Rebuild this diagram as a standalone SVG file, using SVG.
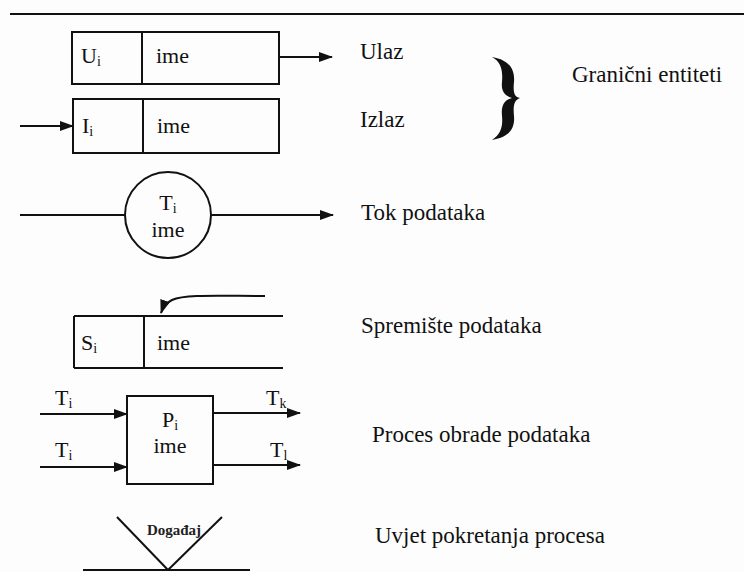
<svg xmlns="http://www.w3.org/2000/svg" width="744" height="572" viewBox="0 0 744 572" font-family="Liberation Serif, Times New Roman, serif">
<style>
.t{font-size:22px;fill:#111}
.l{font-size:23px;fill:#111}
.s{font-size:14px}
.ln{stroke:#111;stroke-width:2;fill:none}
.bx{stroke:#111;stroke-width:2;fill:none}
</style>
<defs>
<marker id="ah" viewBox="0 0 14 10" refX="13" refY="5" markerWidth="14" markerHeight="10" markerUnits="userSpaceOnUse" orient="auto">
<path d="M0,0 L14,5 L0,10 Z" fill="#111"/>
</marker>
</defs>
<rect x="0" y="0" width="744" height="572" fill="#fdfdfd"/>
<line x1="10" y1="14" x2="744" y2="14" class="ln"/>

<g id="ulaz">
<rect x="72" y="32" width="207" height="52" class="bx"/>
<line x1="142" y1="32" x2="142" y2="84" class="ln"/>
<text x="81" y="63" class="t" font-family="Liberation Serif, serif">U<tspan class="s" dy="3">i</tspan></text>
<text x="156" y="63" class="t" font-family="Liberation Serif, serif">ime</text>
</g>

<g id="izlaz">
<rect x="73" y="99" width="206" height="54" class="bx"/>
<line x1="143" y1="99" x2="143" y2="153" class="ln"/>
<text x="82" y="133" class="t" font-family="Liberation Serif, serif">I<tspan class="s" dy="3">i</tspan></text>
<text x="157" y="133" class="t" font-family="Liberation Serif, serif">ime</text>
</g>

<g id="tok">
<circle cx="168" cy="215" r="43" class="bx"/>
<text x="168" y="210" class="t" text-anchor="middle" font-family="Liberation Serif, serif">T<tspan class="s" dy="3">i</tspan></text>
<text x="168" y="237" class="t" text-anchor="middle" font-family="Liberation Serif, serif">ime</text>
</g>

<g id="spremiste">
<line x1="74" y1="316" x2="283" y2="316" class="ln"/>
<line x1="74" y1="368" x2="283" y2="368" class="ln"/>
<line x1="74" y1="316" x2="74" y2="368" class="ln"/>
<line x1="144" y1="316" x2="144" y2="368" class="ln"/>
<text x="81" y="350" class="t" font-family="Liberation Serif, serif">S<tspan class="s" dy="3">i</tspan></text>
<text x="157" y="350" class="t" font-family="Liberation Serif, serif">ime</text>
</g>

<g id="proces">
<rect x="127" y="396" width="86" height="88" class="bx"/>
<text x="170" y="427" class="t" text-anchor="middle" font-family="Liberation Serif, serif">P<tspan class="s" dy="3">i</tspan></text>
<text x="170" y="453" class="t" text-anchor="middle" font-family="Liberation Serif, serif">ime</text>
<text x="55" y="405" class="t" font-family="Liberation Serif, serif">T<tspan class="s" dy="3">i</tspan></text>
<text x="55" y="457" class="t" font-family="Liberation Serif, serif">T<tspan class="s" dy="3">i</tspan></text>
<text x="266" y="405" class="t" font-family="Liberation Serif, serif">T<tspan class="s" dy="3">k</tspan></text>
<text x="270" y="457" class="t" font-family="Liberation Serif, serif">T<tspan class="s" dy="3">l</tspan></text>
</g>

<g id="dogadaj">
<line x1="117" y1="517" x2="168" y2="570" class="ln"/>
<line x1="222" y1="517" x2="168" y2="570" class="ln"/>
<line x1="83" y1="570" x2="250" y2="570" class="ln"/>
<text x="174" y="535" font-family="Liberation Serif, serif" font-size="15" font-weight="bold" fill="#222" text-anchor="middle">Događaj</text>
</g>

<g id="connectors">
<line x1="279" y1="57" x2="332" y2="57" class="ln" marker-end="url(#ah)"/>
<line x1="20" y1="126" x2="73" y2="126" class="ln" marker-end="url(#ah)"/>
<line x1="20" y1="215" x2="125" y2="215" class="ln"/>
<line x1="211" y1="215" x2="333" y2="215" class="ln" marker-end="url(#ah)"/>
<path d="M265,296 C220,296 185,294 172,300 C166,303 163,307 161,313" class="ln" marker-end="url(#ah)"/>
<line x1="40" y1="414" x2="127" y2="414" class="ln" marker-end="url(#ah)"/>
<line x1="40" y1="467" x2="127" y2="467" class="ln" marker-end="url(#ah)"/>
<line x1="213" y1="413" x2="300" y2="413" class="ln" marker-end="url(#ah)"/>
<line x1="213" y1="465" x2="300" y2="465" class="ln" marker-end="url(#ah)"/>
</g>

<g id="brace">
<path d="M492,57 C510,60 515,70 514,82 C513,92 514,97 520,98 C514,100 513,106 514,116 C515,128 510,137 492,140 C501,134 503,126 502,116 C501,106 504,100 512,98 C504,96 501,90 502,82 C503,70 501,62 492,57 Z" fill="#111"/>
</g>

<g id="labels">
<text x="360" y="59" class="l" font-family="Liberation Serif, serif">Ulaz</text>
<text x="360" y="127" class="l" font-family="Liberation Serif, serif">Izlaz</text>
<text x="572" y="82" class="l" font-family="Liberation Serif, serif">Granični entiteti</text>
<text x="361" y="220" class="l" font-family="Liberation Serif, serif">Tok podataka</text>
<text x="361" y="333" class="l" font-family="Liberation Serif, serif">Spremište podataka</text>
<text x="372" y="442" class="l" font-family="Liberation Serif, serif">Proces obrade podataka</text>
<text x="375" y="543" class="l" font-family="Liberation Serif, serif">Uvjet pokretanja procesa</text>
</g>
</svg>
